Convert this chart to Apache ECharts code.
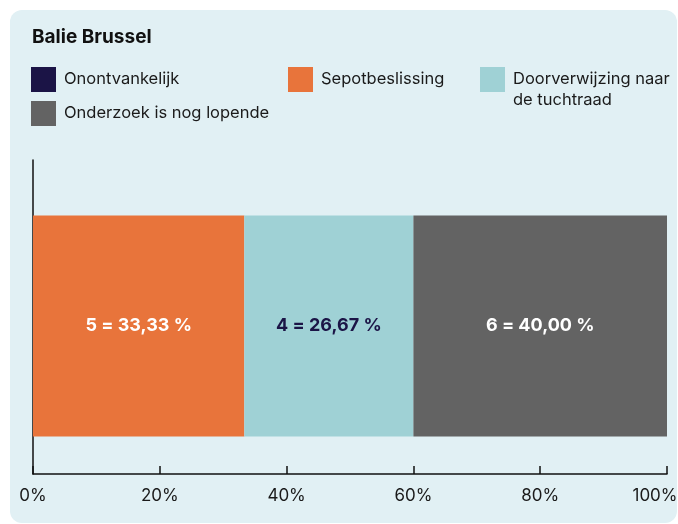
<!DOCTYPE html>
<html>
<head>
<meta charset="utf-8">
<script src="https://cdn.jsdelivr.net/npm/echarts@6/dist/echarts.min.js"></script>
<style>
  html, body { margin: 0; padding: 0; background: #fff; }
  #panel {
    position: absolute; left: 10px; top: 10px; width: 667px; height: 513px;
    background: #e1f0f4; border-radius: 12px;
  }
  #chart { position: absolute; left: 0; top: 0; width: 678px; height: 524px; }
</style>
</head>
<body>
<div id="panel"></div>
<div id="chart"></div>
<script>
// data
const categories = ["Balie Brussel"];
const seriesNames = ["Onontvankelijk", "Sepotbeslissing", "Doorverwijzing naar de tuchtraad", "Onderzoek is nog lopende"];
const counts = [0, 5, 4, 6];
const colors = ["#1b1446", "#e8743b", "#9fd1d5", "#636363"];
const labelColors = ["#ffffff", "#ffffff", "#1b1446", "#ffffff"];
const xTicks = [0, 20, 40, 60, 80, 100];

const total = counts.reduce((a, b) => a + b, 0);
const font = "Inter, 'Noto Sans', sans-serif";

const myChart = echarts.init(document.getElementById("chart"));

const legendBase = {
  orient: "vertical",
  top: 67,
  padding: 0,
  icon: "rect",
  itemWidth: 25,
  itemHeight: 25,
  itemGap: 9,
  selectedMode: false,
  textStyle: { fontFamily: font, fontSize: 16.5, color: "#1a1a1a", padding: [0, 0, 0, 3] },
};

// the bar sits a bit below the middle of the plot, so an empty spacer series takes the upper slot
const bars = seriesNames.map((name, i) => ({
  name: name,
  type: "bar",
  stack: "total",
  barWidth: 221,
  barGap: 0,
  itemStyle: { color: colors[i] },
  label: {
    show: counts[i] > 0,
    position: "inside",
    fontFamily: font,
    fontSize: 18,
    fontWeight: "bold",
    color: labelColors[i],
    formatter: () => counts[i] + " = " + (counts[i] / total * 100).toFixed(2).replace(".", ",") + " %",
  },
  data: [counts[i] / total * 100],
}));
const spacer = { name: "spacer", type: "bar", stack: "spacer", barWidth: 18, barGap: 0, silent: true, data: [] };

myChart.setOption({
  title: {
    text: "Balie Brussel",
    left: 32,
    top: 28,
    padding: 0,
    textStyle: { fontFamily: font, fontSize: 19, fontWeight: "bold", color: "#111" },
  },
  legend: [
    Object.assign({}, legendBase, { left: 31, data: [seriesNames[0], seriesNames[3]] }),
    Object.assign({}, legendBase, { left: 288, data: [seriesNames[1]] }),
    Object.assign({}, legendBase, {
      left: 480,
      top: 48,
      data: [seriesNames[2]],
      // first line sits level with the swatch, second wraps below it
      formatter: () => "\nDoorverwijzing naar\nde tuchtraad",
      textStyle: Object.assign({}, legendBase.textStyle, { lineHeight: 21 }),
    }),
  ],
  grid: { left: 33, right: 11, top: 160, bottom: 50, containLabel: false, outerBoundsMode: "none" },
  xAxis: {
    type: "value",
    min: xTicks[0],
    max: xTicks[xTicks.length - 1],
    interval: xTicks[1] - xTicks[0],
    axisLine: { show: true, lineStyle: { color: "#111", width: 1.5 } },
    axisTick: { show: true, inside: true, length: 8, lineStyle: { color: "#111", width: 1.5 } },
    splitLine: { show: false },
    axisLabel: {
      formatter: (v) => (v === 100 ? v + "%{s|}" : v + "%"),
      rich: { s: { width: 24 } },
      fontFamily: font,
      fontSize: 17,
      color: "#1a1a1a",
      margin: 13,
    },
  },
  yAxis: {
    type: "category",
    data: categories,
    axisLine: { show: true, lineStyle: { color: "#111", width: 1.5 } },
    axisTick: { show: false },
    axisLabel: { show: false },
  },
  series: [spacer].concat(bars),
});
</script>
</body>
</html>
